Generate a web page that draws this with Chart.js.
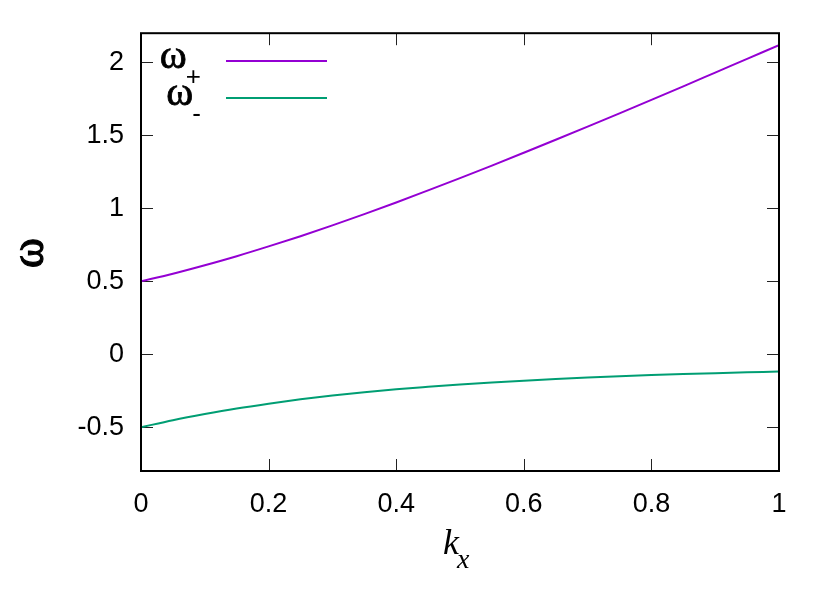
<!DOCTYPE html>
<html>
<head>
<meta charset="utf-8">
<script src="https://cdn.jsdelivr.net/npm/chart.js@4.4.1/dist/chart.umd.min.js"></script>
<style>
  html, body { margin: 0; padding: 0; background: #fff; }
  #wrap { width: 830px; height: 594px; position: relative; }
</style>
</head>
<body>
<div id="wrap"><canvas id="c" width="830" height="594"></canvas></div>
<script>
// ---- data ----
const kx = [0, 0.05, 0.1, 0.15, 0.2, 0.25, 0.3, 0.35, 0.4, 0.45, 0.5,
            0.55, 0.6, 0.65, 0.7, 0.75, 0.8, 0.85, 0.9, 0.95, 1.0];
const omegaPlus = [0.500, 0.552, 0.610, 0.672, 0.739, 0.809, 0.883, 0.960, 1.040, 1.123, 1.207,
                   1.293, 1.381, 1.470, 1.560, 1.651, 1.743, 1.836, 1.930, 2.024, 2.118];
const omegaMinus = [-0.500, -0.452, -0.410, -0.372, -0.339, -0.309, -0.283, -0.260, -0.240, -0.223, -0.207,
                    -0.193, -0.181, -0.170, -0.160, -0.151, -0.143, -0.136, -0.130, -0.124, -0.118];
const xTicks = [0, 0.2, 0.4, 0.6, 0.8, 1];
const xTickLabels = ["0", "0.2", "0.4", "0.6", "0.8", "1"];
const yTicks = [-0.5, 0, 0.5, 1, 1.5, 2];
const yTickLabels = ["-0.5", "0", "0.5", "1", "1.5", "2"];
const seriesNames = ["ω", "ω"];
const seriesSubs = ["+", "-"];
const seriesColors = ["#9400D3", "#009E73"];

const toXY = (xs, ys) => xs.map((x, i) => ({ x: x, y: ys[i] }));

const SANS = "'Liberation Sans', Arial, Helvetica, sans-serif";
const SERIF = "'Liberation Serif', 'Times New Roman', serif";

function heavyText(ctx, txt, x, y, w) {
  ctx.fillText(txt, x, y);
  ctx.lineWidth = w;
  ctx.strokeStyle = '#000';
  ctx.strokeText(txt, x, y);
}

const decorPlugin = {
  id: 'decor',
  beforeDatasetsDraw(chart) {
    const ctx = chart.ctx;
    const a = chart.chartArea;
    const xs = chart.scales.x, ys = chart.scales.y;
    const tl = 12;
    ctx.save();
    ctx.strokeStyle = '#222';
    ctx.lineWidth = 1;
    ctx.beginPath();
    xTicks.forEach(v => {
      const p = Math.round(xs.getPixelForValue(v)) + 0.5;
      ctx.moveTo(p, a.bottom); ctx.lineTo(p, a.bottom - tl);
      ctx.moveTo(p, a.top); ctx.lineTo(p, a.top + tl);
    });
    yTicks.forEach(v => {
      const p = Math.round(ys.getPixelForValue(v)) + 0.5;
      ctx.moveTo(a.left, p); ctx.lineTo(a.left + tl, p);
      ctx.moveTo(a.right, p); ctx.lineTo(a.right - tl, p);
    });
    ctx.stroke();
    ctx.restore();
  },
  afterDraw(chart) {
    const ctx = chart.ctx;
    const a = chart.chartArea;
    ctx.save();
    // border
    ctx.strokeStyle = '#000';
    ctx.lineWidth = 2;
    ctx.strokeRect(a.left, a.top, a.right - a.left, a.bottom - a.top);

    // legend
    const textRight = 201;
    const lineX0 = 226, lineX1 = 327;
    const rowY = [61, 98];
    ctx.fillStyle = '#000';
    for (let i = 0; i < seriesNames.length; i++) {
      const y = rowY[i];
      ctx.font = "26px " + SANS;
      const subW = ctx.measureText(seriesSubs[i]).width;
      ctx.textAlign = 'left';
      ctx.textBaseline = 'alphabetic';
      ctx.fillText(seriesSubs[i], textRight - subW, y + 24);
      ctx.font = "41px " + SERIF;
      ctx.textAlign = 'right';
      heavyText(ctx, seriesNames[i], textRight - subW + 1, y + 7, 0.8);
      ctx.strokeStyle = seriesColors[i];
      ctx.lineWidth = 2;
      ctx.beginPath();
      ctx.moveTo(lineX0, y); ctx.lineTo(lineX1, y);
      ctx.stroke();
    }

    // x axis title: k_x
    ctx.fillStyle = '#000';
    ctx.textAlign = 'left';
    ctx.textBaseline = 'alphabetic';
    ctx.font = "italic 36px " + SERIF;
    const kW = ctx.measureText('k').width;
    const kX = 443;
    ctx.fillText('k', kX, 554);
    ctx.font = "italic 28px " + SERIF;
    ctx.fillText('x', kX + kW - 2, 568);

    // y axis title: omega
    ctx.translate(31, 253);
    ctx.rotate(-Math.PI / 2);
    ctx.font = "46px " + SERIF;
    ctx.textAlign = 'center';
    ctx.textBaseline = 'middle';
    heavyText(ctx, 'ω', 0, 0, 1.2);
    ctx.restore();
  }
};

new Chart(document.getElementById('c'), {
  type: 'scatter',
  data: {
    datasets: [
      { label: 'ω+', data: toXY(kx, omegaPlus), showLine: true, borderColor: seriesColors[0],
        borderWidth: 2, pointRadius: 0, cubicInterpolationMode: 'monotone', fill: false },
      { label: 'ω-', data: toXY(kx, omegaMinus), showLine: true, borderColor: seriesColors[1],
        borderWidth: 2, pointRadius: 0, cubicInterpolationMode: 'monotone', fill: false }
    ]
  },
  options: {
    responsive: false,
    animation: false,
    devicePixelRatio: 1,
    layout: { padding: { top: 29, right: 51, left: 0, bottom: 0 } },
    plugins: { legend: { display: false }, tooltip: { enabled: false }, title: { display: false } },
    scales: {
      x: {
        type: 'linear', min: 0, max: 1,
        afterBuildTicks: s => { s.ticks = xTicks.map(v => ({ value: v })); },
        afterFit: s => { s.height = 123; },
        grid: { display: false, drawTicks: false },
        border: { display: false },
        ticks: {
          padding: 17, color: '#000', maxRotation: 0, autoSkip: false,
          font: { family: SANS, size: 27 },
          callback: (v) => { const i = xTicks.indexOf(v); return i >= 0 ? xTickLabels[i] : ''; }
        }
      },
      y: {
        type: 'linear', min: -0.8, max: 2.2,
        afterBuildTicks: s => { s.ticks = yTicks.map(v => ({ value: v })); },
        afterFit: s => { s.width = 141; },
        grid: { display: false, drawTicks: false },
        border: { display: false },
        ticks: {
          padding: 17, color: '#000', autoSkip: false,
          font: { family: SANS, size: 27 },
          callback: (v) => { const i = yTicks.indexOf(v); return i >= 0 ? yTickLabels[i] : ''; }
        }
      }
    }
  },
  plugins: [decorPlugin]
});
</script>
</body>
</html>
